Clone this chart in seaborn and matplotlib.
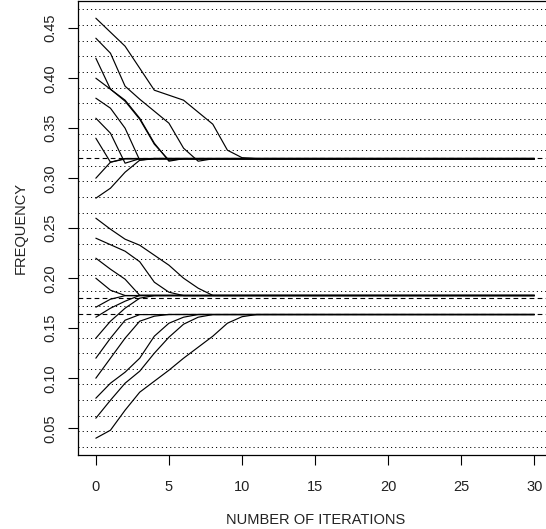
import numpy as np
import pandas as pd
import matplotlib
matplotlib.use("Agg")
import matplotlib.pyplot as plt
import seaborn as sns

# trajectories: values at iterations 0, 1, 2, ...; the last value is held until iteration 30
u46 = [0.460, 0.446, 0.432, 0.410, 0.388, 0.383, 0.378, 0.366, 0.354, 0.328, 0.3205, 0.3197]
u44 = [0.440, 0.425, 0.392, 0.379, 0.367, 0.355, 0.330, 0.317, 0.3194]
u42 = [0.420, 0.389, 0.378, 0.360, 0.335, 0.317, 0.3196]
u40 = [0.400, 0.389, 0.377, 0.359, 0.334, 0.318, 0.3193]
u38 = [0.380, 0.370, 0.350, 0.318, 0.3198]
u36 = [0.360, 0.345, 0.315, 0.3195]
u34 = [0.340, 0.316, 0.3192]
u30 = [0.300, 0.316, 0.3197]
u28 = [0.280, 0.290, 0.306, 0.318, 0.3194]

l26 = [0.260, 0.249, 0.239, 0.233, 0.223, 0.213, 0.200, 0.190, 0.1828]
l24 = [0.240, 0.2335, 0.227, 0.2165, 0.196, 0.186, 0.1826]
l22 = [0.220, 0.209, 0.199, 0.1829]
l20 = [0.200, 0.188, 0.1827]
l17 = [0.171, 0.179, 0.1825]
l16 = [0.161, 0.170, 0.177, 0.1828]
l14 = [0.140, 0.157, 0.170, 0.180, 0.1826]
l12 = [0.120, 0.140, 0.158, 0.1636]
l10 = [0.100, 0.120, 0.140, 0.157, 0.162, 0.1638]
l08 = [0.080, 0.095, 0.106, 0.120, 0.142, 0.155, 0.161, 0.1637]
l06 = [0.060, 0.078, 0.095, 0.107, 0.125, 0.141, 0.154, 0.161, 0.1636]
l04 = [0.040, 0.048, 0.068, 0.086, 0.097, 0.108, 0.120, 0.131, 0.142, 0.155, 0.1615, 0.1637]

trajectories = [u46, u44, u42, u40, u38, u36, u34, u30, u28,
                l26, l24, l22, l20, l17, l16, l14,
                l12, l10, l08, l06, l04]

dash_levels = [0.32, 0.18, 0.1645]
grid_levels = [k / 64 for k in range(2, 31)]
x_ticks = [0, 5, 10, 15, 20, 25, 30]
y_ticks = [0.05, 0.10, 0.15, 0.20, 0.25, 0.30, 0.35, 0.40, 0.45]
last_iteration = 30

rows = []
for n, vals in enumerate(trajectories):
    for i, v in enumerate(vals):
        rows.append((n, i, v))
    rows.append((n, last_iteration, vals[-1]))
df = pd.DataFrame(rows, columns=["traj", "iteration", "frequency"])

sns.set_style("ticks")
plt.rcParams["font.family"] = ["Liberation Sans", "DejaVu Sans"]
plt.rcParams["lines.scale_dashes"] = False

fig = plt.figure(figsize=(5.46, 5.29), dpi=100)
ax = fig.add_axes([78.3 / 546, 74 / 529, (552 - 78.3) / 546, 453.6 / 529])

for g in grid_levels:
    ax.axhline(g, color="black", lw=0.7, ls=(0, (0.8, 2.2)), zorder=1)
for d in dash_levels:
    ax.axhline(d, color="black", lw=0.8, ls=(0, (3.4, 2.4)), zorder=2)

sns.lineplot(data=df, x="iteration", y="frequency", units="traj", estimator=None,
             color="black", lw=0.85, ax=ax, zorder=3)

ax.set_xlim(-1.2, 31.2)
ax.set_ylim(0.0232, 0.4768)
ax.set_xticks(x_ticks)
ax.set_yticks(y_ticks)
ax.set_yticklabels([f"{t:.2f}" for t in y_ticks], rotation=90, va="center")
ax.tick_params(axis="both", length=7, width=0.8, color="black", labelsize=10.5,
               labelcolor="#222222")
ax.tick_params(axis="x", pad=11)
ax.tick_params(axis="y", pad=8)
for s in ax.spines.values():
    s.set_color("black")
    s.set_linewidth(0.9)

ax.set_xlabel("NUMBER OF ITERATIONS", fontsize=10.5, color="#222222")
ax.set_ylabel("FREQUENCY", fontsize=10.5, color="#222222")
ax.xaxis.set_label_coords(0.5, -65 / 453.6)
ax.xaxis.label.set_va("center")
ax.yaxis.set_label_coords(-58 / 473.7, 0.5)
ax.yaxis.label.set_va("center")

fig.savefig("out.png", dpi=100)
